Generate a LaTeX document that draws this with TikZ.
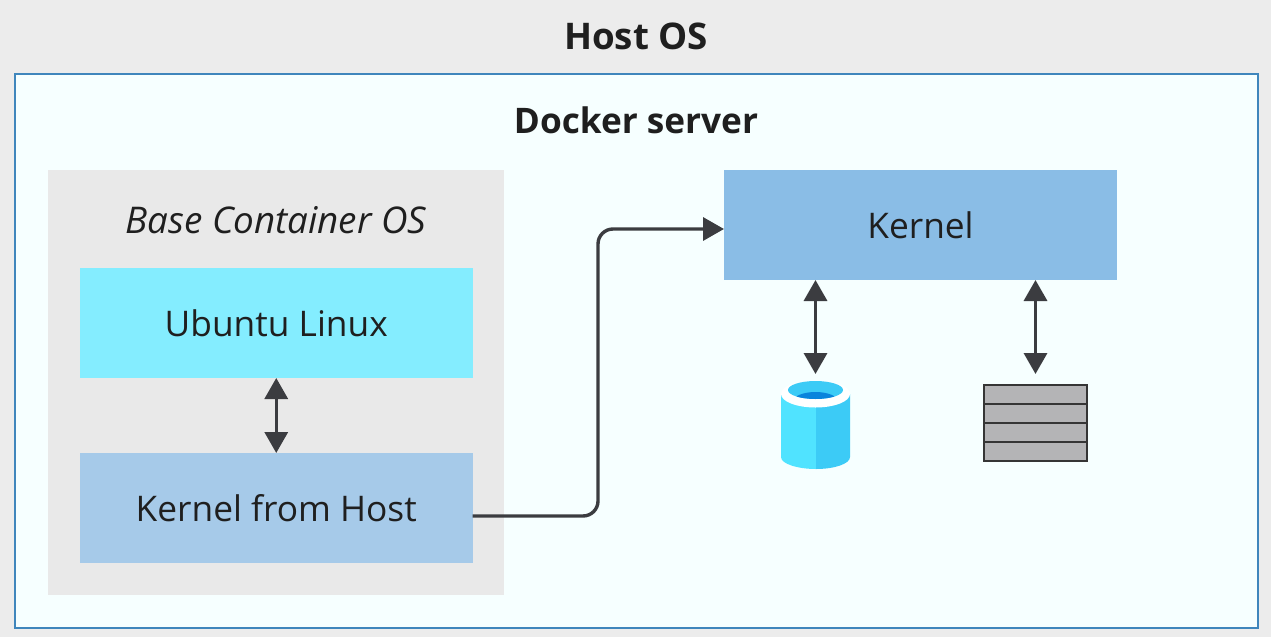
\documentclass[tikz,border=0pt]{standalone}
\usepackage{fontspec}
\setmainfont{Open Sans}
\usetikzlibrary{arrows.meta,positioning}
\definecolor{hostbg}{HTML}{ECECEC}
\definecolor{serverbg}{HTML}{F6FFFF}
\definecolor{serverln}{HTML}{3F86BC}
\definecolor{basebg}{HTML}{E9E9E9}
\definecolor{ubuntu}{HTML}{84EDFF}
\definecolor{khost}{HTML}{A6CAE9}
\definecolor{kernelc}{HTML}{8ABDE6}
\definecolor{ink}{HTML}{1F1F1F}
\definecolor{arrowc}{HTML}{3B3C40}
\definecolor{cylL}{HTML}{50E3FF}
\definecolor{cylR}{HTML}{3CCBF6}
\definecolor{cylIn}{HTML}{0A84DC}
\definecolor{gridf}{HTML}{B4B4B6}
\tikzset{
  x=1pt,y=-1pt,
  box/.style={rectangle,inner sep=0pt,outer sep=0pt,minimum width=#1},
  lab/.style={text=ink,font=\fontsize{35.3}{40}\selectfont},
  ttl/.style={text=ink,font=\fontsize{35.2}{40}\selectfont\bfseries},
  conn/.style={draw=arrowc,line width=3.4pt},
  tip/.style={-{Triangle[length=21pt,width=23pt]}},
  tips/.style={{Triangle[length=21pt,width=23pt]}-{Triangle[length=21pt,width=23pt]}},
}
\begin{document}
\begin{tikzpicture}
\useasboundingbox (0,0) rectangle (1271,637);
\fill[hostbg] (0,0) rectangle (1271,637);
\node[ttl,font=\fontsize{36.7}{40}\selectfont\bfseries,anchor=center] (hosttitle) at (636,36) {Host OS};
\node[box=1243,minimum height=554,draw=serverln,line width=2pt,fill=serverbg,anchor=north west] (server) at (14.5,73.5) {};
\node[ttl,anchor=center] (servertitle) at (636,120) {Docker server};
\node[box=456,minimum height=425,fill=basebg,anchor=north west] (base) at (48,170) {};
\node[lab,font=\fontsize{36.8}{40}\selectfont\itshape,anchor=center] (basetitle) at (276,220) {Base Container OS};
\node[box=392.5,minimum height=110,fill=ubuntu,lab,anchor=north west] (ubuntu) at (80,268) {Ubuntu Linux};
\node[box=392.5,minimum height=110,fill=khost,lab,anchor=north west] (khost) at (80,453) {Kernel from Host};
\node[box=393,minimum height=110,fill=kernelc,lab,anchor=north west] (kernel) at (724,170) {Kernel};
% database
\node[box=69,minimum height=88,anchor=north west] (db) at (781,381) {};
\fill[cylL] (781,394) -- (781,457) .. controls (781,464) and (798,469) .. (816,469) -- (816,394) -- cycle;
\fill[cylR] (816,394) -- (816,469) .. controls (834,469) and (850,464) .. (850,457) -- (850,394) -- cycle;
\fill[white] (815.5,394) ellipse [x radius=34.5,y radius=13.5];
\fill[cylR] (815.5,390) ellipse [x radius=27.5,y radius=9];
\begin{scope}
\clip (815.5,390) ellipse [x radius=27.5,y radius=9];
\fill[cylIn] (815.5,401) ellipse [x radius=22,y radius=9];
\end{scope}
% storage
\node[box=103,minimum height=76,anchor=north west,draw=ink!90,line width=1.4pt,fill=gridf] (store) at (984,385) {};
\foreach \yy in {404,423,442} \draw[ink!90,line width=1.4pt] (984,\yy) -- (1087,\yy);
% connectors
\draw[conn,tips] (ubuntu.south) -- (khost.north);
\draw[conn,tips] ([xshift=-105pt]kernel.south) -- ([yshift=7pt]db.north);
\draw[conn,tips] ([xshift=115pt]kernel.south) -- ([yshift=11pt]store.north);
\draw[conn,tip,rounded corners=15pt] ([yshift=-8pt]khost.east) -| (598,229) -- ([yshift=-4pt]kernel.west);
\end{tikzpicture}
\end{document}
